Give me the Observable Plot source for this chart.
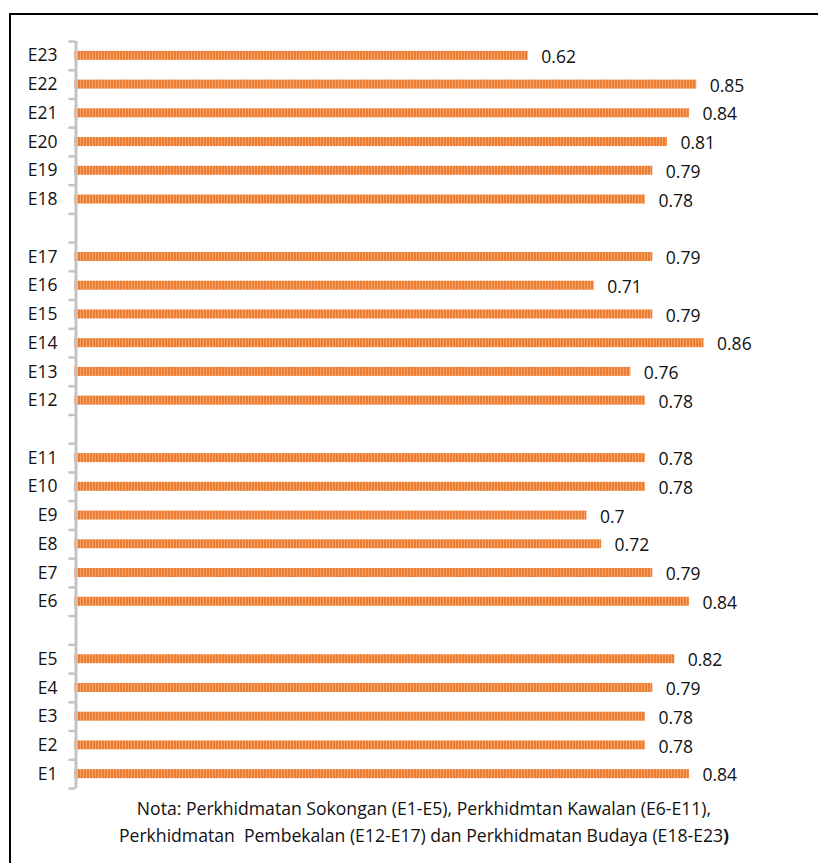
<!DOCTYPE html>
<html>
<head>
<meta charset="utf-8">
<script src="https://cdn.jsdelivr.net/npm/d3@7"></script>
<script src="https://cdn.jsdelivr.net/npm/@observablehq/plot@0.6"></script>
<style>
  html, body { margin: 0; padding: 0; background: #fff; }
  #wrap { position: relative; width: 818px; height: 863px; overflow: hidden; }
  #frame { position: absolute; left: 9px; top: 13px; width: 820px; height: 860px;
           border-top: 2.5px solid #000; border-left: 2.5px solid #000; pointer-events: none; }
  #chart { position: absolute; left: 0; top: 0; }
  #caption { position: absolute; left: 0; top: 795px; width: 818px; padding-left: 30px; box-sizing: border-box;
             text-align: center; font-family: "Open Sans", sans-serif; font-size: 17.6px; line-height: 27px; color: #111; }
</style>
</head>
<body>
<div id="wrap">
  <div id="chart"></div>
  <div id="frame"></div>
  <div id="caption">Nota: Perkhidmatan Sokongan (E1-E5), Perkhidmtan Kawalan (E6-E11),<br>Perkhidmatan&nbsp; Pembekalan (E12-E17) dan Perkhidmatan Budaya (E18-E23<b>)</b></div>
</div>
<script>
// Categories top to bottom (gap entries separate the groups)
const categories = ["E23","E22","E21","E20","E19","E18","gap3",
                    "E17","E16","E15","E14","E13","E12","gap2",
                    "E11","E10","E9","E8","E7","E6","gap1",
                    "E5","E4","E3","E2","E1"];
const labels = ["E1","E2","E3","E4","E5","E6","E7","E8","E9","E10","E11","E12",
                "E13","E14","E15","E16","E17","E18","E19","E20","E21","E22","E23"];
const values = [0.84,0.78,0.78,0.79,0.82,0.84,0.79,0.72,0.7,0.78,0.78,0.78,
                0.76,0.86,0.79,0.71,0.79,0.78,0.79,0.81,0.84,0.85,0.62];

const data = labels.map((l, i) => ({name: l, value: values[i]}));

const W = 818, H = 795, mT = 41, mB = 7, mL = 74, mR = 12;
const step = (H - mT - mB) / categories.length;
const pxPerUnit = (W - mL - mR);
const tickLen = 7 / pxPerUnit;

const chart = Plot.plot({
  width: W, height: H,
  marginTop: mT, marginBottom: mB, marginLeft: mL, marginRight: mR,
  style: {fontFamily: "Open Sans, sans-serif", fontSize: "17.5px", color: "#111", overflow: "visible"},
  x: {domain: [0, 1], axis: null},
  y: {domain: categories, padding: 0, round: false, axis: null},
  marks: [
    Plot.barX(data, {x: "value", y: "name", fill: "url(#stripes)",
      insetTop: (step - 9) / 2, insetBottom: (step - 9) / 2}),
    Plot.ruleY(categories, {y: d => d, x1: -tickLen, x2: 0, dx: 1.5, dy: -step / 2, stroke: "#c3c3c3", strokeWidth: 2.5}),
    Plot.ruleY([categories[categories.length - 1]], {y: d => d, x1: -tickLen, x2: 0, dx: 1.5, dy: step / 2, stroke: "#c3c3c3", strokeWidth: 2.5}),
    Plot.ruleX([0], {stroke: "#c3c3c3", strokeWidth: 3, dx: 1.5}),
    Plot.axisY({label: null, tickSize: 0, tickPadding: 17, tickFormat: d => d.startsWith("gap") ? "" : d, fill: "#111"}),
    Plot.text(data, {x: "value", y: "name", text: d => String(d.value), dx: 13, dy: 1.5, textAnchor: "start", fill: "#111"})
  ]
});

const ns = "http://www.w3.org/2000/svg";
const defs = document.createElementNS(ns, "defs");
defs.innerHTML = '<pattern id="stripes" width="3" height="20" patternUnits="userSpaceOnUse">' +
  '<rect width="3" height="20" fill="#F4A56E"/><rect width="2" height="20" fill="#ED7D31"/></pattern>';
chart.insertBefore(defs, chart.firstChild);
document.getElementById("chart").appendChild(chart);
</script>
</body>
</html>
